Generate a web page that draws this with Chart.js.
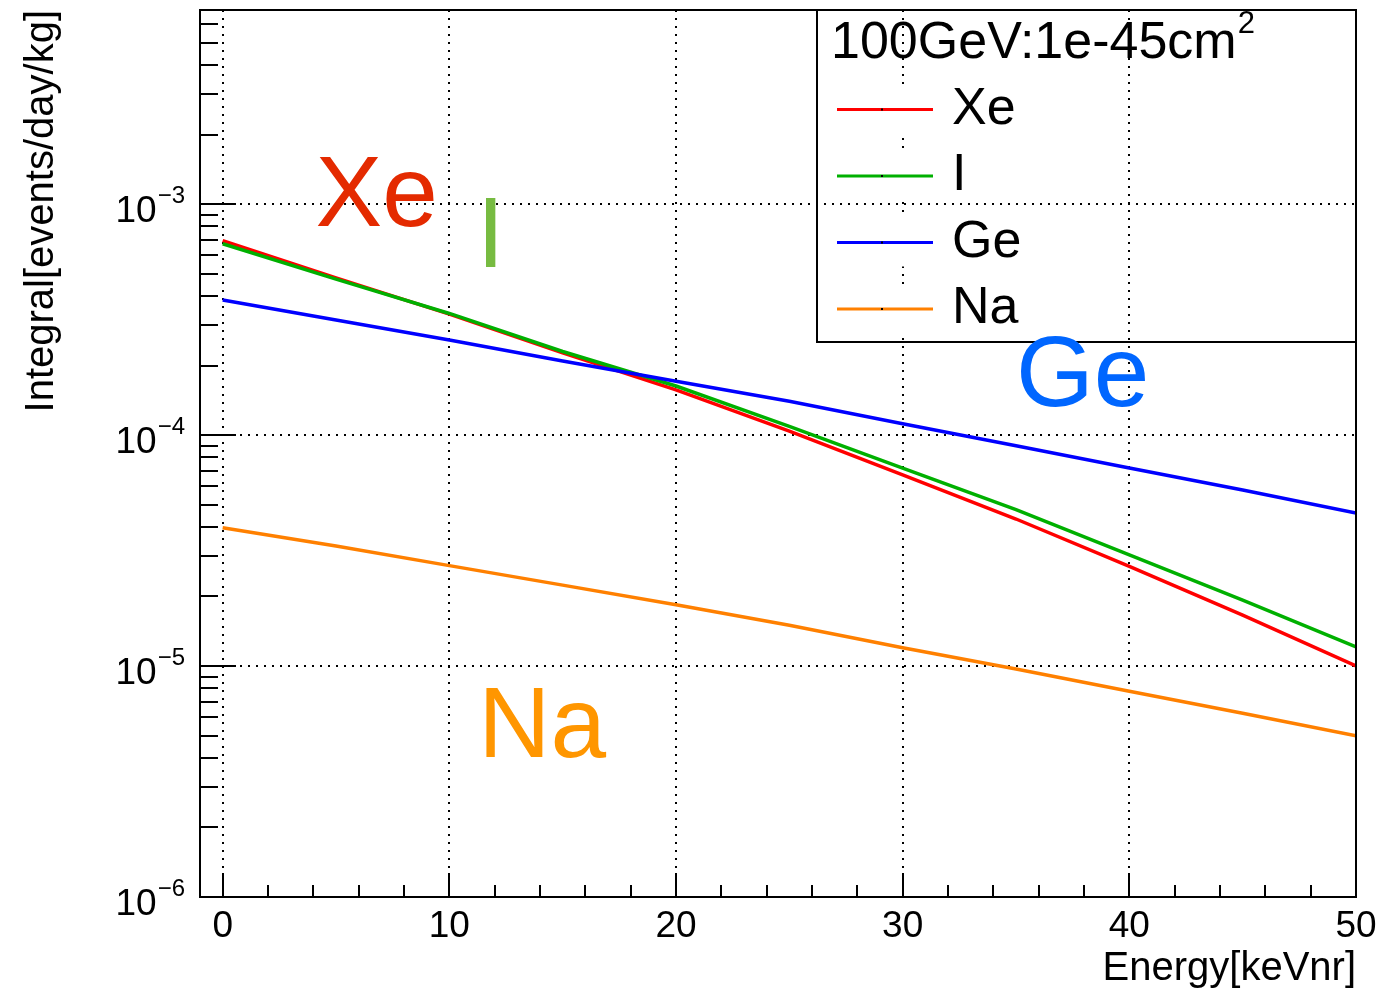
<!DOCTYPE html>
<html>
<head>
<meta charset="utf-8">
<title>Integral rate vs threshold</title>
<script src="https://cdn.jsdelivr.net/npm/chart.js@4.4.1/dist/chart.umd.min.js"></script>
<style>
  html, body { margin: 0; padding: 0; background: #fff; }
  canvas { display: block; }
</style>
</head>
<body>
<canvas id="chart" width="1380" height="989"></canvas>
<script>
// threshold energy (keVnr) and integral rates (events/day/kg)
const energy = [0, 5, 10, 15, 20, 25, 30, 35, 40, 45, 50];
const xeRate = [6.94e-4, 4.79e-4, 3.34e-4, 2.27e-4, 1.57e-4, 1.04e-4, 6.73e-5, 4.33e-5, 2.70e-5, 1.66e-5, 1.00e-5];
const iRate  = [6.73e-4, 4.73e-4, 3.36e-4, 2.30e-4, 1.63e-4, 1.09e-4, 7.19e-5, 4.75e-5, 3.03e-5, 1.93e-5, 1.21e-5];
const geRate = [3.84e-4, 3.15e-4, 2.58e-4, 2.09e-4, 1.71e-4, 1.40e-4, 1.12e-4, 8.99e-5, 7.20e-5, 5.78e-5, 4.59e-5];
const naRate = [3.97e-5, 3.31e-5, 2.72e-5, 2.24e-5, 1.84e-5, 1.50e-5, 1.20e-5, 9.70e-6, 7.77e-6, 6.24e-6, 4.99e-6];

const targets = ["Xe", "I", "Ge", "Na"];

// axis ticks
const xMajorTicks = [0, 10, 20, 30, 40, 50];
const xMinorStep = 2;
const yDecades = [-6, -5, -4, -3];

const xTitle = "Energy[keVnr]";
const yTitle = "Integral[events/day/kg]";
const legendTitle = "100GeV:1e-45cm";
const legendTitleSup = "2";

const FONT = '"Liberation Sans", Arial, Helvetica, sans-serif';
const X_MIN = -1, X_MAX = 50;
const Y_MIN = 1e-6, Y_MAX = 6.92e-3;

const lineColors = ["#ff0000", "#00b000", "#0000ff", "#ff8000"];
const tagColors  = ["#e42a00", "#77bb41", "#0066ff", "#ff9600"];
// big text tags, placed in data coordinates -> [align, x, y]
const tagAnchors = [
  ["left", 4.1, 8.03e-4],
  ["center", 11.82, 5.34e-4],
  ["left", 35.0, 1.335e-4],
  ["left", 11.28, 4.04e-6]
];

const rates = [xeRate, iRate, geRate, naRate];

const rootStyle = {
  id: "rootStyle",
  beforeDatasetsDraw(chart) {
    const { ctx, chartArea: a, scales: { x, y } } = chart;
    ctx.save();
    ctx.strokeStyle = "#000";
    ctx.lineWidth = 2;
    ctx.setLineDash([2, 6]);
    xMajorTicks.forEach(v => {
      const px = Math.round(x.getPixelForValue(v));
      if (px >= a.right - 2) return;
      ctx.beginPath();
      ctx.moveTo(px, a.top);
      ctx.lineTo(px, a.bottom);
      ctx.stroke();
    });
    yDecades.forEach(d => {
      const py = Math.round(y.getPixelForValue(Math.pow(10, d)));
      if (py >= a.bottom - 2) return;
      ctx.beginPath();
      ctx.moveTo(a.left, py);
      ctx.lineTo(a.right, py);
      ctx.stroke();
    });
    ctx.restore();
  },
  afterDatasetsDraw(chart) {
    const { ctx, chartArea: a, scales: { x, y } } = chart;
    ctx.save();
    ctx.strokeStyle = "#000";
    ctx.fillStyle = "#000";
    ctx.lineWidth = 2;

    // ticks, pointing inwards
    ctx.beginPath();
    for (let v = xMajorTicks[0]; v <= X_MAX; v += xMinorStep) {
      const px = Math.round(x.getPixelForValue(v));
      const len = v % 10 === 0 ? 24 : 12;
      ctx.moveTo(px, a.bottom);
      ctx.lineTo(px, a.bottom - len);
    }
    yDecades.forEach(d => {
      for (let m = 1; m <= 9; m++) {
        const v = m * Math.pow(10, d);
        if (v > Y_MAX) break;
        const py = Math.round(y.getPixelForValue(v));
        ctx.moveTo(a.left, py);
        ctx.lineTo(a.left + (m === 1 ? 36 : 18), py);
      }
    });
    ctx.stroke();

    // frame
    ctx.strokeRect(a.left, a.top, a.right - a.left, a.bottom - a.top);

    // x tick labels
    ctx.font = "37px " + FONT;
    ctx.textAlign = "center";
    ctx.textBaseline = "alphabetic";
    xMajorTicks.forEach(v => {
      ctx.fillText(String(v), x.getPixelForValue(v), a.bottom + 40);
    });

    // y tick labels 10^d
    yDecades.forEach(d => {
      const py = y.getPixelForValue(Math.pow(10, d));
      const exp = "\u2212" + Math.abs(d);
      const right = a.left - 15;
      ctx.font = "24px " + FONT;
      const ew = ctx.measureText(exp).width;
      ctx.textAlign = "left";
      ctx.fillText(exp, right - ew, py - 1);
      ctx.font = "37px " + FONT;
      ctx.textAlign = "right";
      ctx.fillText("10", right - ew - 1, py + 18);
    });

    // axis titles
    ctx.font = "40px " + FONT;
    ctx.textAlign = "right";
    ctx.fillText(xTitle, a.right, a.bottom + 83);
    ctx.save();
    ctx.translate(53, a.top);
    ctx.rotate(-Math.PI / 2);
    ctx.textAlign = "right";
    ctx.fillText(yTitle, 0, 0);
    ctx.restore();

    // legend
    const lx = 817, ly = a.top, lw = a.right - lx, lh = 332;
    ctx.strokeRect(lx, ly, lw, lh);
    ctx.font = "52px " + FONT;
    ctx.textAlign = "left";
    ctx.fillText(legendTitle, 831, ly + 48);
    const tw = ctx.measureText(legendTitle).width;
    ctx.font = "31px " + FONT;
    ctx.fillText(legendTitleSup, 831 + tw + 1, ly + 23);
    targets.forEach((name, i) => {
      const rowY = ly + 99.5 + i * 66.5;
      ctx.fillStyle = "#fff";
      ctx.fillRect(837, rowY - 25, 96, 49);
      ctx.strokeStyle = lineColors[i];
      ctx.lineWidth = 3;
      ctx.beginPath();
      ctx.moveTo(837, rowY);
      ctx.lineTo(933, rowY);
      ctx.stroke();
      ctx.fillStyle = "#000";
      ctx.fillRect(881, rowY - 1, 2, 2);
      ctx.font = "52px " + FONT;
      ctx.fillText(name, 952, rowY + 14);
    });

    // big target tags
    ctx.font = "100px " + FONT;
    targets.forEach((name, i) => {
      const [align, tx, ty] = tagAnchors[i];
      ctx.fillStyle = tagColors[i];
      ctx.textAlign = align;
      ctx.fillText(name, x.getPixelForValue(tx), y.getPixelForValue(ty));
    });
    ctx.restore();
  }
};

new Chart(document.getElementById("chart"), {
  type: "line",
  data: {
    datasets: targets.map((name, i) => ({
      label: name,
      data: energy.map((e, k) => ({ x: e, y: rates[i][k] })),
      borderColor: lineColors[i],
      backgroundColor: lineColors[i],
      borderWidth: 3.5,
      pointRadius: 0,
      fill: false,
      tension: 0,
      order: targets.length - i
    }))
  },
  options: {
    responsive: false,
    animation: false,
    devicePixelRatio: 1,
    layout: { padding: { left: 200, top: 10, right: 24, bottom: 92 } },
    plugins: { legend: { display: false }, tooltip: { enabled: false } },
    scales: {
      x: { type: "linear", min: X_MIN, max: X_MAX, bounds: "data", display: false },
      y: { type: "logarithmic", min: Y_MIN, max: Y_MAX, bounds: "data", display: false }
    }
  },
  plugins: [rootStyle]
});
</script>
</body>
</html>
